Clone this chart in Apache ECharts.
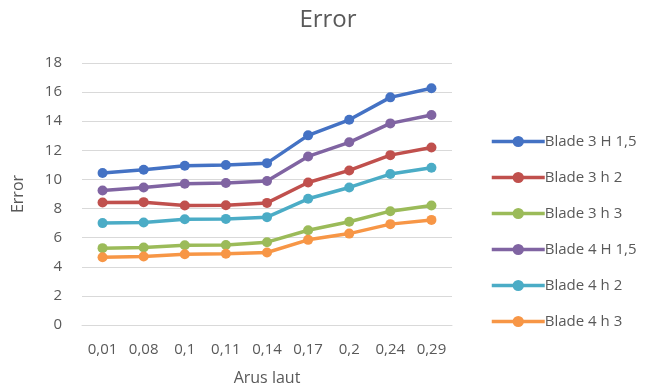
<!DOCTYPE html>
<html><head><meta charset="utf-8">
<script src="https://cdn.jsdelivr.net/npm/echarts@6/dist/echarts.min.js"></script>
<style>html,body{margin:0;padding:0;background:#fff}#c{width:658px;height:391px}</style>
</head><body><div id="c"></div>
<script>
const categories = ["0,01","0,08","0,1","0,11","0,14","0,17","0,2","0,24","0,29"];
const seriesNames = ["Blade 3 H 1,5","Blade 3 h 2","Blade 3 h 3","Blade 4 H 1,5","Blade 4 h 2","Blade 4 h 3"];
const blade3H15 = [10.44,10.67,10.94,10.99,11.12,13.03,14.1,15.64,16.26];
const blade3h2  = [8.42,8.44,8.21,8.23,8.39,9.79,10.62,11.67,12.2];
const blade3h3  = [5.28,5.32,5.48,5.5,5.69,6.51,7.09,7.82,8.21];
const blade4H15 = [9.24,9.45,9.7,9.75,9.89,11.58,12.55,13.85,14.43];
const blade4h2  = [7.0,7.04,7.27,7.29,7.41,8.67,9.45,10.37,10.8];
const blade4h3  = [4.66,4.7,4.86,4.89,4.98,5.85,6.28,6.93,7.22];
const yTicks = [0,2,4,6,8,10,12,14,16,18];

const values = [blade3H15,blade3h2,blade3h3,blade4H15,blade4h2,blade4h3];
const colors = ["#4472C4","#C0504D","#9BBB59","#8064A2","#4BACC6","#F79646"];
const font = "'Open Sans', 'Noto Sans', sans-serif";
const chart = echarts.init(document.getElementById('c'), null, {renderer:'canvas'});
chart.setOption({
  animation:false,
  color: colors,
  title:{text:"Error", left:323, top:3, textAlign:'center',
    textStyle:{fontFamily:font, fontSize:24, fontWeight:'normal', color:'#595959'}},
  legend:{orient:'vertical', left:485, top:129, itemWidth:53, itemHeight:14, itemGap:21,
    lineStyle:{width:3.5},
    textStyle:{fontFamily:font, fontSize:15, color:'#595959', padding:[0,0,0,-5]},
    data: seriesNames},
  grid:{left:82, right:206, top:63, bottom:66},
  xAxis:{type:'category', data:categories, boundaryGap:true,
    name:"Arus laut", nameLocation:'middle', nameGap:45,
    nameTextStyle:{fontFamily:font, fontSize:16, color:'#595959'},
    axisLine:{show:true, lineStyle:{color:'#d9d9d9'}}, axisTick:{show:false},
    axisLabel:{interval:0, fontFamily:font, fontSize:15, color:'#595959', margin:17}},
  yAxis:{type:'value', min:yTicks[0], max:yTicks[yTicks.length-1], interval:2,
    name:"Error", nameLocation:'middle', nameGap:56,
    nameTextStyle:{fontFamily:font, fontSize:16, color:'#595959'},
    axisLine:{show:false}, axisTick:{show:false},
    axisLabel:{fontFamily:font, fontSize:15, color:'#595959', margin:20},
    splitLine:{lineStyle:{color:'#d9d9d9'}}},
  series: seriesNames.map((n,i)=>({
    name:n, type:'line', data:values[i], symbol:'circle', symbolSize:10,
    lineStyle:{width:3.5, color:colors[i]},
    itemStyle:{color:colors[i]}
  }))
});
</script></body></html>
